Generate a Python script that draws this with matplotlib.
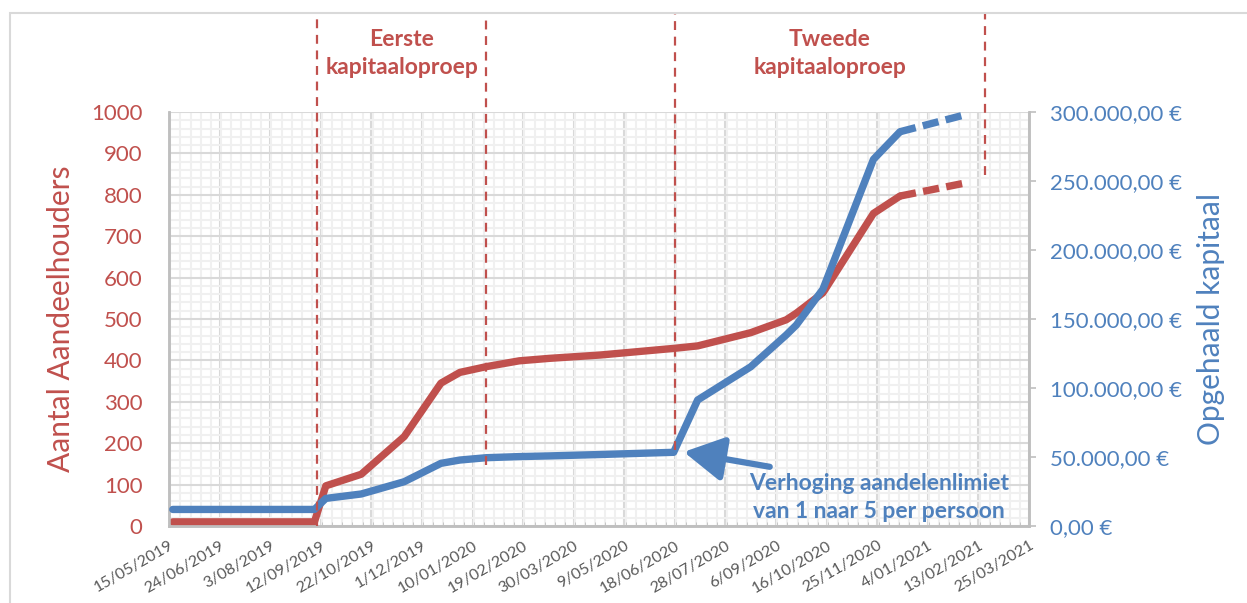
import datetime as dt
import matplotlib
matplotlib.use("Agg")
import matplotlib.pyplot as plt
import matplotlib.dates as mdates
from matplotlib.ticker import MultipleLocator, FuncFormatter
from matplotlib.patches import Rectangle

RED = "#C0504D"
BLUE = "#4F81BD"

# data
dates = ["2019-05-18", "2019-09-07", "2019-09-16", "2019-10-14", "2019-11-17",
         "2019-12-16", "2019-12-31", "2020-01-21", "2020-02-16", "2020-03-11",
         "2020-04-20", "2020-06-17", "2020-07-06", "2020-08-17", "2020-09-14",
         "2020-09-22", "2020-10-13", "2020-11-22", "2020-12-13"]
shareholders = [10, 10, 97, 125, 216, 345, 371, 385, 399, 405,
                413, 429, 435, 467, 498, 514, 563, 755, 797]
capital = [12000, 12000, 20000, 23200, 32100, 45400, 47800, 49500, 50300, 50800,
           51800, 53400, 91300, 115400, 138400, 145600, 171500, 265700, 285700]

forecast_dates = ["2020-12-13", "2021-02-05"]
forecast_shareholders = [797, 830]
forecast_capital = [285700, 298600]

# dashed markers around the two capital calls
call_lines = ["2019-09-09", "2020-01-21", "2020-06-18", "2021-02-18"]
call_line_bottoms = [0.0, 0.147, 0.184, 0.848]
call_labels = ["Eerste\nkapitaaloproep", "Tweede\nkapitaaloproep"]

arrow_head = ("2020-06-25", 179)
arrow_tail = ("2020-09-01", 143)
note = "Verhoging aandelenlimiet\nvan 1 naar 5 per persoon"

x_start = "2019-05-15"
x_end = "2021-03-25"


def d(s):
    return mdates.date2num(dt.datetime.strptime(s, "%Y-%m-%d"))


plt.rcParams["font.family"] = ["Lato", "DejaVu Sans"]

fig = plt.figure(figsize=(12.47, 6.03), dpi=100)
ax = fig.add_axes([169 / 1247, 77 / 603, 860 / 1247, 414 / 603])
ax2 = ax.twinx()

x = [d(s) for s in dates]
xf = [d(s) for s in forecast_dates]

ax.plot(x, shareholders, color=RED, lw=5.3, solid_capstyle="round",
        solid_joinstyle="round", zorder=3)
ax.plot(xf, forecast_shareholders, color=RED, lw=5.3, linestyle=(0, (2.2, 1.0)),
        dash_capstyle="butt", zorder=3)
ax2.plot(x, capital, color=BLUE, lw=5.3, solid_capstyle="round",
         solid_joinstyle="round", zorder=3)
ax2.plot(xf, forecast_capital, color=BLUE, lw=5.3, linestyle=(0, (2.2, 1.0)),
         dash_capstyle="butt", zorder=3)

# axes ranges
x0, x1 = d(x_start), d(x_end)
ax.set_xlim(x0, x1)
ax.set_ylim(0, 1000)
ax2.set_ylim(0, 300000)

# x ticks every 40 days
ticks = []
t = x0
while t <= x1 + 0.5:
    ticks.append(t)
    t += 40
ax.set_xticks(ticks)
labels = [mdates.num2date(t) for t in ticks]
ax.set_xticklabels([f"{t.day}/{t:%m/%Y}" for t in labels], rotation=30,
                   ha="right", rotation_mode="anchor", fontsize=11.5, color="#595959")
ax.xaxis.set_minor_locator(MultipleLocator(8))
ax.yaxis.set_major_locator(MultipleLocator(100))
ax.yaxis.set_minor_locator(MultipleLocator(20))

ax.grid(which="minor", color="#F0F0F0", lw=1.5)
ax.grid(which="major", color="#D9D9D9", lw=1.5)
ax.set_axisbelow(True)

ax.tick_params(axis="y", which="both", length=0, pad=19, labelsize=16, labelcolor=RED)
ax.tick_params(axis="x", which="major", length=0, pad=9)
ax.tick_params(axis="x", which="minor", length=3, direction="in", color="#BFBFBF")
ax2.yaxis.set_major_locator(MultipleLocator(50000))
ax2.yaxis.set_major_formatter(FuncFormatter(
    lambda v, p: f"{v:,.2f}".replace(",", " ").replace(".", ",").replace(" ", ".") + " €"))
ax2.tick_params(axis="y", length=5, width=1.2, color="#BFBFBF", pad=10,
                labelsize=16, labelcolor=BLUE)

for a in (ax, ax2):
    a.spines["top"].set_visible(False)
    for s in ("left", "right", "bottom"):
        a.spines[s].set_color("#BFBFBF")
        a.spines[s].set_linewidth(1.8)

ax.set_ylabel("Aantal Aandeelhouders", color=RED, fontsize=21.5)
ax.yaxis.set_label_coords(-0.109, 0.5)
ax2.set_ylabel("Opgehaald kapitaal", color=BLUE, fontsize=21.5)
ax2.yaxis.set_label_coords(1.195, 0.5)

# vertical dashed lines marking the capital calls
tr = ax2.get_xaxis_transform()
for s, b in zip(call_lines, call_line_bottoms):
    ax2.plot([d(s), d(s)], [b, 1.237], transform=tr, color=RED, lw=1.6,
             linestyle=(0, (4, 3)), clip_on=False, zorder=5)

for i, label in enumerate(call_labels):
    mid = (d(call_lines[2 * i]) + d(call_lines[2 * i + 1])) / 2
    ax2.text(mid, 1.142, label, transform=tr, ha="center", va="center",
             color=RED, fontsize=16.5, fontweight="bold", linespacing=1.42)

# arrow + note
ax2.annotate("", xy=(d(arrow_head[0]), arrow_head[1]),
             xytext=(d(arrow_tail[0]), arrow_tail[1]),
             xycoords=ax.transData, textcoords=ax.transData,
             arrowprops=dict(arrowstyle="-|>,head_length=1.35,head_width=0.75",
                             lw=4.5, color=BLUE, mutation_scale=18,
                             shrinkA=0, shrinkB=0), zorder=6)
ax2.text(0.826, 0.069, note, transform=ax.transAxes, ha="center", va="center",
         color=BLUE, fontsize=16.5, fontweight="bold", linespacing=1.38, zorder=6)

# chart border
fig.patches.append(Rectangle((10 / 1247, -0.1), 1.2, (603 - 13) / 603 + 0.1,
                             transform=fig.transFigure, fill=False,
                             ec="#D9D9D9", lw=1.5))

fig.savefig("out.png", dpi=100)
